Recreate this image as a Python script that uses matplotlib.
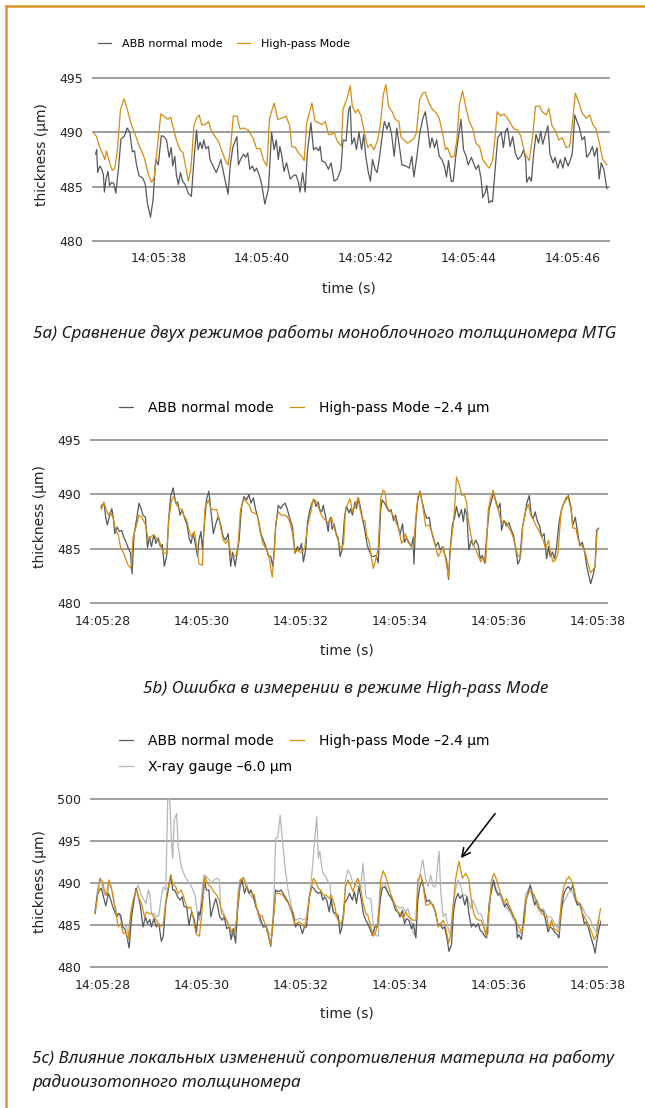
import matplotlib
matplotlib.use('Agg')
import matplotlib.pyplot as plt
from matplotlib.lines import Line2D

# ---------------------------------------------------------------
# data (seconds after 14:05:00, µm)
# ---------------------------------------------------------------

# 5a) ABB normal mode vs High-pass mode
a_t_normal = [36.79, 36.81, 36.83, 36.87, 36.90, 36.94, 36.96, 36.99, 37.03, 37.06,
              37.10, 37.14, 37.18, 37.23, 37.28, 37.34, 37.40, 37.45, 37.50, 37.54,
              37.58, 37.63, 37.70, 37.75, 37.79, 37.85, 37.90, 37.95, 38.00, 38.06,
              38.11, 38.16, 38.21, 38.25, 38.28, 38.32, 38.35, 38.39, 38.43, 38.47,
              38.52, 38.58, 38.64, 38.69, 38.74, 38.77, 38.81, 38.85, 38.88, 38.92,
              38.97, 39.00, 39.06, 39.12, 39.17, 39.21, 39.27, 39.35, 39.39, 39.44,
              39.52, 39.55, 39.59, 39.65, 39.69, 39.73, 39.77, 39.82, 39.86, 39.90,
              39.95, 40.00, 40.06, 40.13, 40.19, 40.24, 40.28, 40.32, 40.35, 40.39,
              40.43, 40.48, 40.55, 40.61, 40.66, 40.71, 40.74, 40.79, 40.84, 40.88,
              40.95, 41.00, 41.05, 41.10, 41.13, 41.16, 41.23, 41.29,
              41.34, 41.40, 41.46, 41.53, 41.57, 41.63, 41.68, 41.71, 41.74, 41.79,
              41.83, 41.88, 41.93, 41.97, 42.01, 42.06, 42.10, 42.14, 42.19, 42.23,
              42.27, 42.34, 42.37, 42.42, 42.46, 42.51, 42.56, 42.61, 42.66, 42.71,
              42.79, 42.85, 42.90, 42.94, 42.99, 43.05, 43.11, 43.16, 43.21, 43.25,
              43.29, 43.34, 43.38, 43.43, 43.48, 43.53, 43.57, 43.61, 43.66, 43.70,
              43.75, 43.81, 43.85, 43.90, 43.95, 43.99, 44.05, 44.09, 44.14, 44.19,
              44.24, 44.27, 44.32, 44.35, 44.39, 44.43, 44.46, 44.51, 44.56, 44.63,
              44.67, 44.71, 44.75, 44.80, 44.85, 44.90, 44.95, 45.01, 45.06, 45.10,
              45.12, 45.17, 45.21, 45.25, 45.30, 45.35, 45.39, 45.43, 45.48, 45.53,
              45.57, 45.63, 45.67, 45.72, 45.77, 45.82, 45.86, 45.92, 45.96, 46.00,
              46.05, 46.10, 46.14, 46.19, 46.24, 46.28, 46.34, 46.39, 46.43, 46.48,
              46.52, 46.56, 46.61, 46.67]
a_normal = [488.0, 488.4, 486.3, 486.9, 486.7, 486.1, 484.5, 485.7, 486.4, 485.1,
            485.4, 485.3, 484.4, 486.6, 489.4, 489.6, 490.4, 490.0, 488.2, 488.3,
            487.0, 486.0, 485.8, 485.2, 483.5, 482.2, 483.8, 487.5, 487.0, 489.7,
            489.6, 489.3, 487.7, 488.6, 486.9, 487.8, 486.1, 485.2, 486.3, 485.5,
            485.2, 484.4, 484.1, 487.5, 490.2, 488.4, 489.1, 488.5, 489.3, 488.5,
            488.7, 487.5, 486.9, 486.3, 486.9, 487.5, 486.1, 484.3, 486.9, 488.6,
            489.6, 487.0, 487.5, 488.0, 487.7, 488.1, 486.6, 486.9, 486.4, 486.7,
            486.1, 485.2, 483.4, 484.8, 490.0, 488.4, 489.3, 487.5, 488.7, 487.8,
            486.4, 487.2, 485.7, 486.0, 486.1, 485.4, 484.5, 486.3, 484.5, 488.1,
            490.9, 488.4, 488.6, 488.3, 488.7, 487.4, 487.2, 486.6,
            487.2, 485.5, 485.7, 486.6, 489.3, 489.2, 492.1, 492.4, 488.9, 489.5,
            488.4, 490.0, 488.4, 489.8, 487.8, 486.3, 485.5, 487.5, 486.6, 486.3,
            487.5, 490.1, 491.0, 490.3, 490.9, 489.8, 487.8, 490.4, 488.7, 487.0,
            486.9, 486.7, 487.8, 485.9, 487.5, 489.8, 491.2, 491.9, 490.3, 488.6,
            489.5, 488.6, 489.3, 487.8, 487.5, 486.9, 485.9, 487.4, 485.5, 485.5,
            487.8, 489.8, 491.2, 488.4, 487.8, 487.0, 487.7, 487.2, 486.6, 487.0,
            485.7, 484.0, 484.5, 485.1, 483.5, 483.7, 483.6, 486.6, 489.5, 490.0,
            488.6, 490.1, 490.4, 488.7, 489.6, 488.1, 487.5, 487.8, 488.4, 487.5,
            485.4, 485.9, 485.5, 487.8, 489.8, 489.0, 490.1, 488.9, 489.8, 490.6,
            488.0, 487.2, 487.7, 486.7, 487.5, 486.7, 487.7, 486.9, 487.4, 488.0,
            491.6, 490.9, 490.4, 489.3, 489.6, 487.7, 488.1, 488.7, 487.8, 488.6,
            485.7, 487.2, 486.6, 484.8]

a_t_highpass = [36.76, 36.81, 36.85, 36.90, 36.97, 37.00, 37.06, 37.11, 37.16, 37.21,
                37.27, 37.34, 37.42, 37.48, 37.55, 37.61, 37.68, 37.74, 37.81, 37.87,
                37.92, 37.97, 38.05, 38.13, 38.19, 38.24, 38.29, 38.35, 38.42, 38.48,
                38.54, 38.58, 38.63, 38.69, 38.74, 38.79, 38.84, 38.90, 38.97, 39.03,
                39.10, 39.16, 39.23, 39.29, 39.35, 39.40, 39.45, 39.52, 39.58, 39.65,
                39.74, 39.84, 39.90, 39.97, 40.03, 40.10, 40.15, 40.24, 40.31, 40.39,
                40.47, 40.54, 40.58, 40.65, 40.71, 40.77, 40.82, 40.87, 40.97, 41.03,
                41.10, 41.16, 41.23, 41.29,
                41.34, 41.40, 41.46, 41.54, 41.57, 41.66, 41.71, 41.75, 41.81, 41.86,
                41.92, 41.98, 42.05, 42.11, 42.17, 42.24, 42.29, 42.35, 42.40, 42.45,
                42.52, 42.58, 42.65, 42.69, 42.75, 42.82, 42.88, 42.95, 42.99, 43.05,
                43.11, 43.16, 43.23, 43.30, 43.37, 43.43, 43.50, 43.55, 43.59, 43.66,
                43.72, 43.77, 43.82, 43.88, 43.95, 44.01, 44.08, 44.14, 44.21, 44.27,
                44.34, 44.40, 44.46, 44.51, 44.55, 44.61, 44.68, 44.75, 44.82, 44.88,
                44.95, 45.01, 45.08, 45.17, 45.24, 45.29, 45.37, 45.42, 45.50, 45.55,
                45.61, 45.68, 45.74, 45.81, 45.88, 45.95, 46.00, 46.06, 46.13, 46.19,
                46.27, 46.34, 46.40, 46.46, 46.53, 46.59, 46.67]
a_highpass = [489.9, 489.6, 488.9, 488.3, 487.5, 488.3, 487.2, 486.5, 486.7, 488.3,
              492.1, 493.1, 491.8, 490.7, 489.9, 489.0, 488.3, 487.5, 486.1, 485.4,
              485.8, 488.1, 491.7, 491.4, 491.2, 491.4, 490.4, 489.3, 488.4, 488.1,
              486.6, 485.5, 486.6, 490.6, 491.3, 491.6, 490.7, 490.7, 491.0, 490.1,
              489.6, 489.2, 488.3, 487.5, 487.0, 488.7, 491.5, 491.5, 490.3, 490.4,
              490.2, 489.4, 488.5, 488.5, 487.5, 486.9, 491.3, 492.7, 491.2, 491.3,
              491.5, 490.6, 488.7, 488.6, 488.1, 487.8, 487.4, 490.9, 492.7, 491.0,
              490.9, 490.7, 491.0, 489.8,
              489.8, 490.0, 489.2, 488.7, 492.1, 493.3, 494.3, 492.4, 491.8, 492.1,
              491.5, 490.1, 488.6, 488.9, 488.4, 489.3, 490.6, 493.5, 494.4, 492.4,
              491.9, 491.2, 491.0, 489.6, 489.3, 489.0, 489.2, 489.5, 490.0, 493.0,
              493.6, 493.7, 492.7, 492.1, 491.8, 491.3, 489.8, 488.4, 488.6, 487.7,
              487.8, 489.3, 492.6, 493.8, 492.2, 491.0, 490.3, 489.0, 488.7, 487.5,
              487.0, 486.7, 487.4, 489.6, 491.9, 491.5, 491.7, 491.3, 490.7, 490.3,
              490.2, 489.6, 488.1, 487.4, 489.8, 492.4, 492.4, 491.9, 491.6, 492.2,
              490.6, 490.1, 489.3, 489.5, 488.6, 488.7, 490.7, 493.6, 492.7, 491.8,
              491.3, 491.6, 490.7, 490.3, 488.9, 487.5, 487.0]

# 5b) ABB normal mode vs High-pass mode shifted by -2.4 µm
b_t_normal = [27.96, 27.99, 28.03, 28.06, 28.09, 28.14, 28.18, 28.21, 28.24, 28.29,
              28.33, 28.38, 28.42, 28.46, 28.51, 28.56, 28.59, 28.63, 28.68, 28.73,
              28.77, 28.81, 28.86, 28.90, 28.94, 28.98, 29.03, 29.07, 29.12, 29.16,
              29.20, 29.24, 29.29, 29.33, 29.37, 29.42, 29.47, 29.51, 29.56, 29.60,
              29.66, 29.70, 29.74, 29.78, 29.82, 29.87, 29.91, 29.94, 29.98, 30.01,
              30.04, 30.09, 30.14, 30.18, 30.23, 30.28, 30.33, 30.38, 30.43, 30.48,
              30.53, 30.58, 30.62, 30.67, 30.71, 30.75, 30.80, 30.85, 30.90, 30.95,
              30.99, 31.04, 31.08, 31.14, 31.19, 31.24, 31.29, 31.34, 31.39, 31.43,
              31.46, 31.49, 31.54, 31.59, 31.63, 31.68, 31.72, 31.78, 31.83, 31.88,
              31.93, 31.97, 32.01, 32.05, 32.10, 32.13, 32.18, 32.23, 32.27, 32.30,
              32.35, 32.38, 32.42, 32.45, 32.50, 32.55,
              32.57, 32.60, 32.63, 32.67, 32.71, 32.75, 32.79, 32.83, 32.88, 32.92,
              32.97, 33.00, 33.04, 33.09, 33.12, 33.16, 33.21, 33.25, 33.29, 33.34,
              33.39, 33.43, 33.47, 33.52, 33.56, 33.61, 33.64, 33.69, 33.73, 33.78,
              33.82, 33.87, 33.91, 33.96, 34.00, 34.05, 34.09, 34.13, 34.18, 34.23,
              34.27, 34.28, 34.32, 34.36, 34.40, 34.45, 34.50, 34.54, 34.59, 34.63,
              34.67, 34.72, 34.77, 34.81, 34.86, 34.89, 34.94, 34.98, 35.01, 35.06,
              35.10, 35.14, 35.19, 35.24, 35.28, 35.31, 35.35, 35.39, 35.44, 35.48,
              35.53, 35.58, 35.62, 35.66, 35.71, 35.75, 35.80, 35.85, 35.89, 35.93,
              35.98, 36.02, 36.05, 36.10, 36.15, 36.20, 36.25, 36.29, 36.34, 36.38,
              36.42, 36.47, 36.52, 36.56, 36.61, 36.65, 36.69, 36.73, 36.77, 36.82,
              36.86, 36.91, 36.96, 37.00, 37.03, 37.08, 37.12, 37.16, 37.21, 37.26,
              37.30, 37.35, 37.40, 37.45, 37.49, 37.54, 37.58, 37.63, 37.68, 37.73,
              37.77, 37.82, 37.85, 37.90, 37.94, 37.97, 38.01]
b_normal = [488.8, 489.1, 489.0, 487.8, 487.2, 488.1, 488.7, 487.9, 486.4, 487.0,
            486.6, 486.7, 486.1, 485.7, 485.1, 484.6, 482.7, 486.3, 487.7, 489.2,
            488.7, 488.1, 487.9, 485.1, 486.1, 485.2, 486.3, 485.5, 486.0, 485.2,
            485.4, 483.4, 484.4, 487.8, 489.9, 490.6, 489.2, 489.3, 488.1, 488.6,
            487.7, 487.2, 486.0, 485.5, 486.4, 485.4, 484.3, 485.8, 486.6, 484.9,
            486.7, 489.5, 490.3, 488.6, 486.4, 487.3, 488.0, 487.2, 486.1, 485.8,
            486.4, 483.4, 484.7, 483.4, 484.6, 485.8, 488.9, 489.8, 489.5, 490.0,
            489.2, 489.7, 488.7, 487.7, 486.4, 485.8, 485.2, 484.4, 484.3, 483.4,
            484.9, 487.0, 489.0, 488.7, 489.0, 489.2, 488.7, 487.7, 487.0, 484.6,
            485.2, 484.9, 485.5, 483.8, 485.1, 487.4, 488.6, 489.3, 489.5, 488.9,
            489.3, 488.6, 488.4, 489.0, 487.9, 486.6,
            487.6, 487.9, 486.8, 487.3, 486.4, 486.0, 484.3, 484.9, 487.9, 488.9,
            488.3, 488.7, 488.1, 489.3, 488.7, 489.7, 488.6, 487.6, 486.7, 485.3,
            484.7, 484.3, 484.3, 484.4, 483.7, 488.6, 489.5, 489.2, 488.8, 488.4,
            488.6, 487.6, 488.1, 487.1, 486.3, 487.3, 485.6, 486.0, 485.6, 485.2,
            486.1, 483.6, 487.6, 489.5, 490.3, 489.3, 488.3, 487.8, 487.9, 486.7,
            486.0, 485.2, 485.6, 484.9, 485.2, 484.7, 484.0, 482.2, 484.8, 487.3,
            487.8, 488.9, 487.9, 488.6, 487.5, 488.7, 488.1, 484.9, 485.8, 485.3,
            485.8, 485.3, 484.1, 484.4, 483.7, 486.1, 488.6, 489.5, 490.1, 489.5,
            488.7, 489.2, 486.7, 487.6, 487.1, 487.4, 486.7, 486.3, 484.9, 483.6,
            484.0, 486.9, 488.1, 489.2, 489.9, 488.1, 487.8, 488.4, 487.6, 487.1,
            486.1, 486.4, 484.1, 485.2, 484.3, 484.7, 484.1, 485.1, 487.4, 488.6,
            489.1, 489.5, 489.9, 488.9, 487.2, 487.9, 486.7, 485.3, 485.6, 484.7,
            483.4, 482.4, 481.8, 482.6, 483.5, 486.7, 486.9]

b_t_highpass = [27.97, 28.02, 28.06, 28.11, 28.15, 28.21, 28.26, 28.31, 28.36, 28.41,
                28.46, 28.51, 28.57, 28.61, 28.67, 28.73, 28.79, 28.86, 28.92, 28.97,
                29.02, 29.06, 29.12, 29.16, 29.22, 29.29, 29.33, 29.39, 29.43, 29.49,
                29.54, 29.59, 29.64, 29.69, 29.74, 29.79, 29.85, 29.89, 29.94, 30.01,
                30.06, 30.13, 30.18, 30.24, 30.30, 30.36, 30.43, 30.48, 30.53, 30.59,
                30.63, 30.69, 30.73, 30.78, 30.85, 30.90, 30.96, 31.00, 31.06, 31.12,
                31.17, 31.23, 31.27, 31.33, 31.37, 31.42, 31.46, 31.49, 31.54, 31.60,
                31.66, 31.72, 31.78, 31.83, 31.88, 31.93, 31.98, 32.03, 32.08, 32.13,
                32.20, 32.25, 32.32, 32.37, 32.42, 32.48, 32.55,
                32.57, 32.62, 32.67, 32.71, 32.77, 32.81, 32.86, 32.90, 32.96, 32.99,
                33.04, 33.07, 33.10, 33.15, 33.19, 33.24, 33.29, 33.33, 33.37, 33.42,
                33.46, 33.51, 33.56, 33.61, 33.66, 33.70, 33.73, 33.78, 33.82, 33.88,
                33.93, 33.98, 34.03, 34.07, 34.11, 34.16, 34.22, 34.27, 34.32, 34.36,
                34.40, 34.45, 34.52, 34.59, 34.64, 34.69, 34.73, 34.77, 34.82, 34.87,
                34.92, 34.98, 35.02, 35.07, 35.11, 35.14, 35.19, 35.25, 35.29, 35.34,
                35.38, 35.43, 35.47, 35.53, 35.58, 35.63, 35.68, 35.73, 35.78, 35.83,
                35.88, 35.93, 35.99, 36.03, 36.09, 36.13, 36.18, 36.24, 36.29, 36.34,
                36.38, 36.44, 36.48, 36.54, 36.59, 36.64, 36.69, 36.74, 36.79, 36.84,
                36.89, 36.94, 37.00, 37.04, 37.09, 37.14, 37.19, 37.25, 37.30, 37.35,
                37.39, 37.45, 37.49, 37.55, 37.60, 37.65, 37.70, 37.75, 37.80, 37.85,
                37.90, 37.94, 37.98]
b_highpass = [488.6, 489.3, 488.7, 488.1, 488.4, 487.8, 486.7, 486.3, 485.1, 484.7,
              484.1, 483.5, 483.2, 486.1, 487.0, 488.1, 487.9, 487.2, 485.8, 486.1,
              486.3, 486.1, 485.7, 485.5, 484.6, 484.6, 487.7, 489.5, 489.8, 489.0,
              488.7, 488.6, 488.0, 487.7, 486.7, 486.1, 486.6, 485.4, 483.6, 483.5,
              488.7, 489.5, 488.7, 488.6, 488.6, 487.4, 485.8, 485.5, 485.8, 484.4,
              484.3, 484.4, 485.4, 488.6, 489.6, 489.3, 489.0, 488.4, 488.3, 488.1,
              486.7, 485.5, 485.2, 484.7, 483.8, 482.4, 484.6, 487.4, 488.4, 488.1,
              488.1, 488.0, 487.4, 486.4, 484.6, 484.9, 484.7, 484.7, 485.2, 487.0,
              488.4, 489.6, 489.3, 488.6, 488.0, 487.7, 487.4,
              487.5, 487.9, 487.0, 486.3, 485.5, 484.9, 485.5, 488.7, 489.3, 489.6,
              488.4, 488.7, 489.0, 489.7, 488.7, 487.7, 487.6, 486.1, 485.8, 484.3,
              483.2, 484.0, 485.1, 489.6, 490.4, 490.2, 489.0, 488.5, 488.4, 487.9,
              487.3, 486.8, 485.5, 485.8, 486.4, 485.6, 485.3, 485.0, 487.9, 489.8,
              490.3, 489.2, 487.1, 487.2, 486.6, 485.8, 485.0, 484.3, 484.7, 485.2,
              484.1, 482.4, 485.2, 487.0, 489.3, 491.6, 491.0, 489.9, 490.0, 489.4,
              487.7, 486.3, 485.5, 484.9, 484.4, 483.8, 484.3, 483.7, 488.5, 489.7,
              490.4, 489.3, 488.5, 487.7, 487.4, 487.5, 487.1, 486.6, 486.0, 485.1,
              484.3, 484.5, 487.1, 488.5, 489.1, 488.1, 487.7, 487.2, 486.8, 486.3,
              485.8, 485.0, 485.8, 484.6, 483.8, 484.0, 484.6, 488.3, 489.1, 489.7,
              489.8, 488.7, 486.9, 486.9, 485.8, 485.4, 485.1, 484.5, 483.6, 482.8,
              483.1, 483.4, 486.7]

# 5c) same as 5b plus radioisotope X-ray gauge shifted by -6.0 µm
c_t_normal = [27.84, 27.89, 27.93, 27.97, 28.02, 28.06, 28.11, 28.15, 28.20, 28.24,
              28.28, 28.32, 28.36, 28.40, 28.44, 28.48, 28.53, 28.58, 28.63, 28.67,
              28.71, 28.76, 28.81, 28.86, 28.90, 28.95, 28.98, 29.03, 29.08, 29.13,
              29.18, 29.22, 29.27, 29.32, 29.37, 29.41, 29.45, 29.51, 29.56, 29.60,
              29.64, 29.69, 29.74, 29.79, 29.84, 29.89, 29.93, 29.96, 30.01, 30.05,
              30.09, 30.14, 30.18, 30.23, 30.28, 30.32, 30.36, 30.41, 30.45, 30.50,
              30.55, 30.59, 30.63, 30.68, 30.72, 30.77, 30.81, 30.86, 30.90, 30.95,
              30.99, 31.04, 31.09, 31.14, 31.19, 31.24, 31.29, 31.34, 31.39, 31.44,
              31.49, 31.54, 31.60, 31.64, 31.70, 31.74, 31.79, 31.84, 31.89, 31.93,
              31.98, 32.03, 32.07, 32.11, 32.17, 32.22, 32.26, 32.30, 32.35, 32.40,
              32.44, 32.48, 32.52, 32.57,
              32.61, 32.65, 32.70, 32.75, 32.79, 32.83, 32.88, 32.94, 32.98, 33.04,
              33.08, 33.12, 33.17, 33.22, 33.26, 33.31, 33.35, 33.39, 33.44, 33.49,
              33.54, 33.60, 33.64, 33.69, 33.73, 33.78, 33.82, 33.87, 33.91, 33.96,
              34.00, 34.05, 34.09, 34.13, 34.18, 34.23, 34.27, 34.32, 34.36, 34.40,
              34.45, 34.50, 34.54, 34.59, 34.63, 34.67, 34.72, 34.77, 34.81, 34.86,
              34.90, 34.94, 34.99, 35.04, 35.08, 35.12, 35.17, 35.21, 35.26, 35.31,
              35.35, 35.39, 35.44, 35.48, 35.53, 35.58, 35.62, 35.66, 35.71, 35.75,
              35.80, 35.85, 35.89, 35.93, 35.98, 36.02, 36.07, 36.11, 36.15, 36.20,
              36.25, 36.29, 36.34, 36.37, 36.40, 36.45, 36.49, 36.54, 36.59, 36.63,
              36.67, 36.72, 36.76, 36.81, 36.86, 36.90, 36.94, 36.99, 37.03, 37.08,
              37.12, 37.16, 37.21, 37.26, 37.31, 37.36, 37.40, 37.45, 37.49, 37.54,
              37.58, 37.63, 37.67, 37.72, 37.76, 37.80, 37.85, 37.90, 37.94, 37.99,
              38.02, 38.05]
c_normal = [486.4, 488.6, 489.2, 489.4, 488.2, 487.3, 488.8, 488.2, 487.2, 486.6,
            486.0, 486.4, 486.2, 484.8, 484.6, 483.8, 482.3, 486.0, 488.0, 489.4,
            488.6, 487.2, 484.8, 486.0, 485.2, 485.7, 484.8, 485.8, 484.8, 485.2,
            483.1, 483.7, 487.6, 489.2, 491.0, 489.2, 489.2, 488.4, 488.0, 488.4,
            487.2, 487.2, 485.0, 486.6, 485.8, 484.2, 486.6, 486.2, 488.0, 490.4,
            489.2, 489.2, 486.0, 487.2, 488.2, 487.2, 486.0, 485.6, 486.0, 484.6,
            484.8, 483.3, 484.6, 482.9, 486.8, 489.6, 490.4, 488.8, 489.6, 488.8,
            489.2, 488.4, 487.2, 486.6, 485.6, 484.8, 485.0, 483.8, 482.5, 485.6,
            489.2, 489.0, 489.2, 488.8, 488.2, 487.8, 487.0, 486.4, 484.8, 485.2,
            485.0, 484.0, 484.8, 484.8, 488.4, 489.6, 489.4, 489.0, 488.8, 489.0,
            488.0, 488.4, 488.0, 486.6,
            488.2, 486.6, 486.4, 486.2, 484.0, 484.8, 487.6, 488.2, 488.8, 488.0,
            489.0, 487.6, 489.6, 488.0, 486.4, 485.6, 485.2, 484.6, 483.8, 484.8,
            484.8, 488.0, 489.4, 489.6, 489.2, 488.6, 488.4, 487.6, 486.8, 486.6,
            486.0, 486.8, 485.2, 485.8, 485.6, 484.6, 485.2, 483.5, 488.0, 489.6,
            490.4, 488.8, 487.8, 488.0, 487.6, 487.4, 486.4, 485.0, 485.2, 484.6,
            484.8, 483.7, 481.9, 482.7, 486.6, 488.0, 488.8, 488.2, 488.6, 487.4,
            488.4, 486.4, 484.8, 485.2, 484.8, 485.2, 484.4, 484.2, 483.7, 483.5,
            487.6, 489.2, 490.4, 489.2, 488.6, 488.8, 488.2, 487.2, 487.6, 487.0,
            486.6, 486.0, 485.6, 483.5, 483.9, 483.3, 485.2, 487.8, 489.0, 489.8,
            488.6, 487.4, 488.0, 487.0, 486.8, 486.6, 485.6, 484.2, 484.8, 484.6,
            484.2, 484.0, 483.5, 486.8, 488.8, 489.4, 489.6, 489.2, 489.8, 488.2,
            487.4, 487.6, 486.8, 485.2, 485.4, 484.8, 483.7, 482.7, 481.7, 483.7,
            484.6, 485.4]

c_t_highpass = [27.84, 27.89, 27.94, 27.99, 28.03, 28.07, 28.12, 28.18, 28.22, 28.26,
                28.31, 28.36, 28.41, 28.46, 28.51, 28.56, 28.61, 28.68, 28.73, 28.78,
                28.84, 28.88, 28.94, 28.98, 29.03, 29.08, 29.15, 29.22, 29.29, 29.37,
                29.42, 29.47, 29.52, 29.58, 29.62, 29.67, 29.72, 29.77, 29.82, 29.88,
                29.95, 30.01, 30.06, 30.13, 30.18, 30.24, 30.30, 30.35, 30.40, 30.44,
                30.50, 30.55, 30.60, 30.65, 30.70, 30.77, 30.84, 30.89, 30.94, 31.00,
                31.06, 31.10, 31.16, 31.21, 31.27, 31.33, 31.39, 31.44, 31.49, 31.56,
                31.63, 31.70, 31.75, 31.81, 31.87, 31.91, 31.96, 32.01, 32.06, 32.11,
                32.18, 32.25, 32.30, 32.35, 32.40, 32.45, 32.51, 32.57,
                32.61, 32.67, 32.71, 32.77, 32.81, 32.86, 32.90, 32.95, 33.00, 33.05,
                33.10, 33.15, 33.21, 33.25, 33.31, 33.35, 33.41, 33.46, 33.51, 33.56,
                33.61, 33.66, 33.71, 33.76, 33.81, 33.86, 33.91, 33.96, 34.01, 34.07,
                34.11, 34.17, 34.22, 34.27, 34.32, 34.36, 34.42, 34.47, 34.52, 34.57,
                34.62, 34.67, 34.72, 34.77, 34.82, 34.87, 34.92, 34.98, 35.02, 35.07,
                35.12, 35.19, 35.26, 35.33, 35.39, 35.45, 35.49, 35.54, 35.60, 35.64,
                35.70, 35.74, 35.80, 35.85, 35.90, 35.95, 36.00, 36.05, 36.10, 36.15,
                36.20, 36.26, 36.30, 36.35, 36.40, 36.46, 36.51, 36.55, 36.61, 36.66,
                36.71, 36.75, 36.81, 36.86, 36.91, 36.96, 37.01, 37.06, 37.11, 37.16,
                37.21, 37.26, 37.31, 37.36, 37.41, 37.46, 37.52, 37.56, 37.62, 37.66,
                37.72, 37.76, 37.82, 37.87, 37.92, 37.97, 38.01, 38.05]
c_highpass = [486.4, 488.4, 490.6, 490.2, 489.2, 488.6, 490.4, 489.2, 487.8, 486.6,
              484.8, 485.2, 484.0, 484.2, 483.3, 486.4, 488.0, 489.2, 488.2, 487.6,
              486.0, 486.6, 486.4, 486.4, 486.0, 485.6, 484.8, 485.2, 488.8, 491.0,
              489.8, 489.6, 488.8, 489.2, 488.6, 487.6, 487.0, 487.2, 486.0, 484.0,
              483.7, 487.2, 490.8, 489.8, 489.6, 489.0, 488.6, 488.0, 486.4, 486.2,
              485.6, 484.8, 484.2, 484.2, 485.6, 490.4, 490.7, 489.6, 489.2, 488.8,
              488.6, 487.2, 486.0, 486.2, 485.2, 484.2, 482.7, 485.6, 488.8, 488.8,
              488.6, 488.0, 487.6, 486.6, 485.2, 485.2, 485.4, 485.2, 484.8, 485.6,
              488.6, 490.6, 490.2, 489.4, 489.2, 488.6, 488.6, 488.2,
              488.6, 487.6, 486.4, 485.2, 485.2, 486.0, 489.6, 490.4, 489.8, 489.0,
              490.0, 490.6, 489.2, 487.8, 486.4, 486.2, 484.8, 483.7, 484.2, 485.6,
              490.4, 491.5, 490.8, 489.8, 488.8, 488.0, 487.2, 486.6, 486.4, 485.8,
              486.6, 486.0, 485.8, 485.6, 485.6, 490.4, 491.0, 489.6, 487.4, 487.4,
              487.8, 487.2, 486.6, 484.8, 485.2, 485.6, 484.8, 482.9, 483.7, 487.2,
              490.4, 492.6, 490.6, 491.2, 490.4, 487.6, 486.4, 485.8, 485.6, 485.6,
              484.6, 483.7, 487.0, 490.4, 491.2, 490.4, 489.4, 488.4, 487.6, 488.2,
              487.4, 486.6, 486.0, 485.4, 484.8, 484.2, 485.4, 488.2, 489.0, 489.0,
              488.6, 488.0, 487.2, 486.4, 486.2, 486.0, 484.6, 485.6, 484.6, 484.4,
              484.2, 488.0, 489.6, 490.4, 490.8, 490.4, 489.2, 488.0, 487.6, 486.8,
              486.0, 485.6, 484.8, 484.2, 483.3, 483.8, 485.6, 487.0]

c_t_xray = [27.84, 27.89, 27.94, 27.99, 28.04, 28.09, 28.14, 28.20, 28.24, 28.29,
            28.33, 28.38, 28.42, 28.48, 28.53, 28.58, 28.63, 28.68, 28.71, 28.76,
            28.81, 28.87, 28.92, 28.95, 28.98, 29.03, 29.08, 29.13, 29.17, 29.22,
            29.27, 29.31, 29.35, 29.39, 29.41, 29.44, 29.49, 29.52, 29.59, 29.66,
            29.72, 29.79, 29.86, 29.91, 29.95, 29.99, 30.04, 30.09, 30.15, 30.20,
            30.24, 30.30, 30.35, 30.38, 30.43, 30.50, 30.57, 30.63, 30.69, 30.73,
            30.78, 30.84, 30.90, 30.97, 31.04, 31.10, 31.17, 31.24, 31.31, 31.36,
            31.41, 31.45, 31.49, 31.53, 31.58, 31.62, 31.68, 31.74, 31.81, 31.88,
            31.95, 32.01, 32.06, 32.11, 32.18, 32.24, 32.28, 32.32, 32.35, 32.38,
            32.44, 32.48, 32.53, 32.59,
            32.61, 32.67, 32.71, 32.77, 32.81, 32.86, 32.90, 32.95, 33.00, 33.05,
            33.10, 33.15, 33.21, 33.25, 33.31, 33.35, 33.41, 33.45, 33.51, 33.56,
            33.61, 33.66, 33.71, 33.76, 33.81, 33.86, 33.91, 33.96, 34.01, 34.06,
            34.11, 34.16, 34.22, 34.27, 34.32, 34.36, 34.42, 34.46, 34.52, 34.57,
            34.62, 34.67, 34.72, 34.75, 34.79, 34.82, 34.87, 34.92, 34.98, 35.02,
            35.07, 35.12, 35.17, 35.23, 35.27, 35.33, 35.37, 35.43, 35.47, 35.53,
            35.58, 35.63, 35.68, 35.73, 35.78, 35.83, 35.88, 35.93, 35.98, 36.03,
            36.08, 36.13, 36.18, 36.24, 36.28, 36.34, 36.38, 36.44, 36.48, 36.54,
            36.59, 36.64, 36.69, 36.74, 36.79, 36.84, 36.89, 36.94, 36.99, 37.04,
            37.09, 37.14, 37.19, 37.25, 37.29, 37.35, 37.39, 37.45, 37.49, 37.55,
            37.60, 37.65, 37.70, 37.75, 37.80, 37.85, 37.90, 37.96, 38.00, 38.05]
c_xray = [486.6, 489.2, 490.6, 489.6, 488.6, 488.6, 490.2, 488.8, 487.4, 486.4,
          486.4, 485.2, 485.0, 484.8, 483.5, 486.6, 488.4, 489.2, 489.8, 488.8,
          488.2, 487.6, 489.2, 488.6, 486.4, 486.4, 486.0, 486.2, 488.0, 489.6,
          489.2, 500.0, 500.0, 494.4, 493.0, 497.5, 498.3, 494.4, 491.8, 490.8,
          490.2, 489.6, 488.6, 486.4, 485.6, 488.4, 491.0, 490.8, 490.4, 490.0,
          490.4, 490.6, 490.4, 487.2, 486.6, 485.6, 484.8, 483.7, 484.8, 489.2,
          490.4, 490.6, 490.0, 488.6, 488.2, 487.2, 485.4, 484.8, 484.8, 484.0,
          483.7, 487.6, 495.4, 495.4, 498.1, 495.4, 491.8, 489.2, 487.2, 485.6,
          485.8, 485.8, 485.6, 486.0, 488.8, 492.4, 495.6, 497.9, 493.0, 493.8,
          491.2, 491.0, 490.4, 489.8,
          487.6, 486.4, 486.0, 485.6, 484.8, 486.4, 490.4, 491.6, 491.0, 490.0,
          489.8, 489.6, 489.6, 492.4, 488.4, 488.2, 488.2, 485.6, 483.8, 483.7,
          489.2, 490.0, 489.8, 488.8, 488.2, 487.8, 487.4, 487.2, 487.0, 487.2,
          486.6, 487.0, 485.6, 484.0, 483.7, 489.6, 491.6, 492.8, 490.4, 489.6,
          491.0, 489.6, 489.6, 491.6, 493.8, 489.2, 486.0, 486.4, 484.4, 483.8,
          487.2, 489.2, 490.4, 489.6, 488.6, 488.6, 488.2, 487.0, 488.0, 487.2,
          486.4, 486.4, 485.6, 484.2, 484.0, 488.8, 490.0, 489.6, 488.8, 488.4,
          487.6, 487.2, 486.8, 486.4, 485.8, 485.2, 484.4, 484.0, 485.2, 488.8,
          489.2, 489.6, 488.6, 488.0, 486.8, 486.6, 487.0, 486.4, 486.0, 486.0,
          485.6, 485.0, 484.6, 486.8, 487.6, 488.2, 488.8, 489.2, 488.8, 487.8,
          487.6, 487.4, 487.0, 486.2, 486.0, 485.6, 484.8, 484.2, 485.6, 485.6]

# tick positions and labels
a_xticks = [38, 40, 42, 44, 46]
a_xticklabels = ['14:05:38', '14:05:40', '14:05:42', '14:05:44', '14:05:46']
bc_xticks = [28, 30, 32, 34, 36, 38]
bc_xticklabels = ['14:05:28', '14:05:30', '14:05:32', '14:05:34', '14:05:36', '14:05:38']
ab_yticks = [480, 485, 490, 495]
c_yticks = [480, 485, 490, 495, 500]

labels_a = ['ABB normal mode', 'High-pass Mode']
labels_bc = ['ABB normal mode', 'High-pass Mode \u20132.4 \u00b5m', 'X-ray gauge \u20136.0 \u00b5m']
captions = ['5a) Сравнение двух режимов работы моноблочного толщиномера MTG',
            '5b) Ошибка в измерении в режиме High-pass Mode',
            '5c) Влияние локальных изменений сопротивления материла на работу\nрадиоизотопного толщиномера']
# arrow in 5c, tail -> head (s, µm)
arrow_tail = (35.92, 498.3)
arrow_head = (35.23, 493.0)

# ---------------------------------------------------------------
DARK = '#55595c'
GOLD = '#d38d12'
LIGHT = '#b4b7b9'
GRID = '#8e8e8e'
BORDER = '#d8962a'

W, H = 645, 1108
fig = plt.figure(figsize=(W / 100, H / 100), dpi=100)
fig.patch.set_facecolor('white')


def px_axes(l, t, r, b):
    return fig.add_axes([l / W, 1 - b / H, (r - l) / W, (b - t) / H])


def style(ax, xlim, ylim, xticks, xticklabels, yticks, xlab_y, ylab_y):
    ax.set_xlim(*xlim)
    ax.set_ylim(*ylim)
    ax.set_xticks(xticks)
    ax.set_xticklabels(xticklabels)
    ax.set_yticks(yticks)
    for s in ax.spines.values():
        s.set_visible(False)
    ax.tick_params(length=0, labelsize=9, colors='#222222')
    ax.tick_params(axis='x', pad=7)
    ax.tick_params(axis='y', pad=6.5)
    ax.grid(axis='y', color=GRID, lw=1.2)
    ax.set_axisbelow(True)
    ax.set_xlabel('time (s)', fontsize=10, color='#222222')
    ax.set_ylabel('thickness (\u00b5m)', fontsize=10, color='#222222')
    ax.xaxis.set_label_coords(0.496, xlab_y)
    ax.xaxis.label.set_va('center')
    ax.yaxis.set_label_coords(-0.0965, ylab_y)
    ax.yaxis.label.set_va('center')


def series(ax, t, v, color, lw=0.9, z=2):
    n = min(len(t), len(v))
    return ax.plot(t[:n], v[:n], color=color, lw=lw, zorder=z)[0]


# ---- 5a
ax_a = px_axes(92, 76.4, 610, 242.6)
la1 = series(ax_a, a_t_normal, a_normal, DARK)
la2 = series(ax_a, a_t_highpass, a_highpass, GOLD, z=3)
style(ax_a, (36.72, 46.73), (479.85, 495.15), a_xticks, a_xticklabels, ab_yticks, -0.279, 0.53)
fig.legend([la1, la2], labels_a, loc='center left', bbox_to_anchor=(98 / W, 1 - 44 / H),
           ncol=2, frameon=False, fontsize=8, borderpad=0, borderaxespad=0,
           handlelength=1.17, handletextpad=0.99, columnspacing=1.3)

# ---- 5b
ax_b = px_axes(90, 438.4, 608, 604.9)
lb1 = series(ax_b, b_t_normal, b_normal, DARK)
lb2 = series(ax_b, b_t_highpass, b_highpass, GOLD, z=3)
style(ax_b, (27.74, 38.20), (479.85, 495.15), bc_xticks, bc_xticklabels, ab_yticks, -0.271, 0.53)
fig.legend([lb1, lb2], labels_bc[:2], loc='center left', bbox_to_anchor=(119 / W, 1 - 407.7 / H),
           ncol=2, frameon=False, fontsize=10, borderpad=0, borderaxespad=0,
           handlelength=1.0, handletextpad=1.08, columnspacing=1.17)

# ---- 5c
ax_c = px_axes(90, 797.6, 608, 969.0)
lc3 = series(ax_c, c_t_xray, c_xray, LIGHT, z=2)
lc1 = series(ax_c, c_t_normal, c_normal, DARK, z=3)
lc2 = series(ax_c, c_t_highpass, c_highpass, GOLD, z=4)
style(ax_c, (27.74, 38.20), (479.8, 500.2), bc_xticks, bc_xticklabels, c_yticks, -0.257, 0.513)
fig.legend([lc1, lc2], labels_bc[:2], loc='center left', bbox_to_anchor=(119 / W, 1 - 741.3 / H),
           ncol=2, frameon=False, fontsize=10, borderpad=0, borderaxespad=0,
           handlelength=1.0, handletextpad=1.08, columnspacing=1.17)
fig.legend([lc3], labels_bc[2:], loc='center left', bbox_to_anchor=(119 / W, 1 - 767.3 / H),
           frameon=False, fontsize=10, borderpad=0, borderaxespad=0,
           handlelength=1.0, handletextpad=1.08)
ax_c.annotate('', xy=arrow_head, xytext=arrow_tail,
              arrowprops=dict(arrowstyle='->,head_length=0.6,head_width=0.3', color='black', lw=1.1,
                              shrinkA=0, shrinkB=0), zorder=6)

# ---- captions
cap_font = dict(family=['Noto Sans', 'DejaVu Sans'], style='italic', fontsize=12.3, color='#1a1a1a')
fig.text(33 / W, 1 - 333 / H, captions[0], ha='left', va='center', **cap_font)
fig.text(346 / W, 1 - 688 / H, captions[1], ha='center', va='center', **cap_font)
fig.text(32 / W, 1 - 1070.5 / H, captions[2], ha='left', va='center', linespacing=1.5, **cap_font)

# ---- golden page border (left and top)
fig.add_artist(Line2D([6 / W, 6 / W], [0, 1 - 6 / H], color=BORDER, lw=1.8, transform=fig.transFigure))
fig.add_artist(Line2D([6 / W, 1], [1 - 6 / H, 1 - 6 / H], color=BORDER, lw=1.8, transform=fig.transFigure))

fig.savefig('out.png', dpi=100, facecolor='white')
